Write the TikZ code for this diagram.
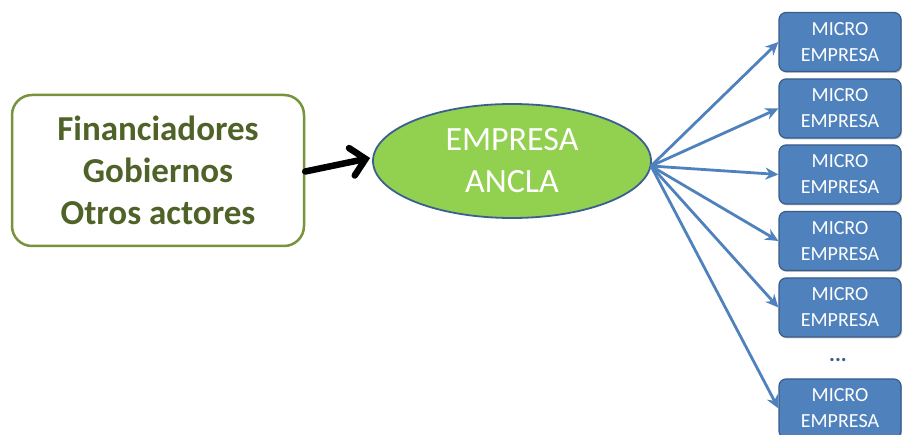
\documentclass[tikz,border=0pt]{standalone}
\usepackage{fontspec}
\setmainfont{Carlito}
\usetikzlibrary{shapes.geometric,arrows.meta,shadows}
\definecolor{olivebord}{HTML}{77933C}
\definecolor{olivetext}{HTML}{4F6228}
\definecolor{anclafill}{HTML}{92D050}
\definecolor{anclabord}{HTML}{3D5F8F}
\definecolor{microfill}{HTML}{4F81BD}
\definecolor{microbord}{HTML}{385D8A}
\tikzset{
  actors/.style={draw=olivebord, line width=2.5pt, rounded corners=20pt, fill=white,
    minimum width=292pt, minimum height=151pt, inner sep=0pt,
    align=center, text=olivetext, font=\fontsize{35}{42}\selectfont\bfseries},
  ancla/.style={ellipse, draw=anclabord, line width=1.8pt, fill=anclafill,
    minimum width=278pt, minimum height=114pt, inner sep=0pt,
    align=center, text=white, font=\fontsize{34}{42}\selectfont},
  micro/.style={draw=microbord, line width=1.2pt, rounded corners=7pt, fill=microfill,
    minimum width=122pt, minimum height=59pt, inner sep=0pt,
    align=center, text=white, font=\fontsize{20}{26}\selectfont,
    drop shadow={shadow xshift=1pt, shadow yshift=-1.5pt, fill=black!45, opacity=0.5}},
  bigarrow/.style={line width=6.5pt, line cap=round, -{Straight Barb[length=14pt,width=28pt,line cap=round]}},
  bluearrow/.style={draw=microfill, line width=2.8pt, -{Stealth[length=13pt,width=12pt]}}
}
\begin{document}
\begin{tikzpicture}[x=1pt,y=-1pt]
\useasboundingbox (0,0) rectangle (902,435);
\node[actors] (act) at (158,170.5) {Financiadores\\Gobiernos\\Otros actores};
\node[ancla] (anc) at (512,161) {EMPRESA\\ANCLA};
\node[micro] (m1) at (840,42) {MICRO\\EMPRESA};
\node[micro] (m2) at (840,108.5) {MICRO\\EMPRESA};
\node[micro] (m3) at (840,174.5) {MICRO\\EMPRESA};
\node[micro] (m4) at (840,241) {MICRO\\EMPRESA};
\node[micro] (m5) at (840,307.5) {MICRO\\EMPRESA};
\node[micro] (m6) at (840,408.5) {MICRO\\EMPRESA};
\node[text=microbord, font=\fontsize{22}{22}\selectfont\bfseries] (dots) at (838,360) {...};
\coordinate (src) at (651,166);
\draw[bigarrow] ([yshift=-1pt]act.east) -- ([xshift=-2pt,yshift=3pt]anc.west);
\foreach \m in {m1,m2,m3,m4,m5,m6}
  \draw[bluearrow] (src) -- (\m.west);
\end{tikzpicture}
\end{document}
